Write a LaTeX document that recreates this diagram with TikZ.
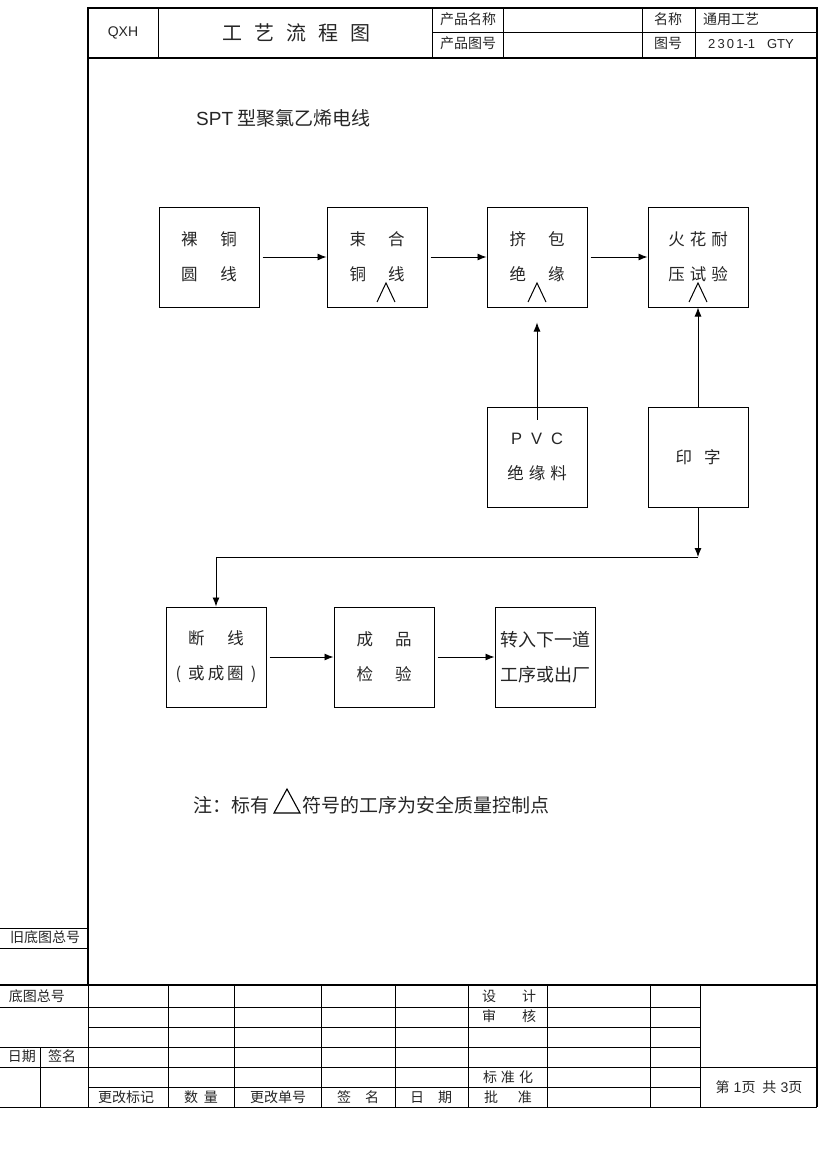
\documentclass[tikz,border=0pt]{standalone}
\usepackage{fontspec}
\setmainfont{Noto Sans CJK SC}
\newfontfamily\lat{Liberation Sans}
\usetikzlibrary{arrows.meta}
\begin{document}
\begin{tikzpicture}[x=1pt,y=-1pt,
  thinln/.style={line width=0.8pt},
  thickln/.style={line width=1.8pt},
  box/.style={draw,line width=1pt,minimum width=100pt,minimum height=100pt,inner sep=0pt,align=center,font=\fontsize{16.5}{35}\selectfont,text=black!85},
  arr/.style={line width=0.9pt,-{Latex[length=9pt,width=7pt]}},
  txt/.style={inner sep=0pt,font=\fontsize{14}{14}\selectfont,text=black!85},
  chev/.style={line width=1pt}]
\useasboundingbox (0,0) rectangle (826,1169);
\fill[white] (0,0) rectangle (826,1169);

% ---------- frame ----------
\draw[thickln] (88,985) -- (88,8) -- (817,8) -- (817,1107);
\draw[thickln] (88,58) -- (817,58);
\draw[thickln] (0,985) -- (817,985);
\draw[thinln] (88,985) -- (88,1107);
% header
\draw[thinln] (158,8) -- (158,58);
\draw[thinln] (432,8) -- (432,58);
\draw[thinln] (503,8) -- (503,58);
\draw[thinln] (642,8) -- (642,58);
\draw[thinln] (695,8) -- (695,58);
\draw[thinln] (432,32) -- (817,32);
\node[txt,font=\lat\fontsize{14}{14}\selectfont] (hq) at (123,33) {QXH};
\node[txt,font=\fontsize{20}{20}\selectfont] (ht) at (296,33) {工\hspace{12pt}艺\hspace{12pt}流\hspace{12pt}程\hspace{12pt}图};
\node[txt] (hn1) at (468,19) {产品名称};
\node[txt] (hn2) at (468,43) {产品图号};
\node[txt] (hn3) at (668,19) {名称};
\node[txt] (hn4) at (731,19) {通用工艺};
\node[txt] (hn5) at (668,43) {图号};
\node[txt,font=\lat\fontsize{13}{13}\selectfont] (hn6) at (751,44) {2\,3\,0\,1-1\hspace{12pt}GTY};

% ---------- left column ----------
\draw[thinln] (0,928) -- (88,928);
\draw[thinln] (0,948) -- (88,948);
\draw[thinln] (0,1007) -- (88,1007);
\draw[thinln] (0,1047) -- (88,1047);
\draw[thinln] (0,1067) -- (88,1067);
\draw[thinln] (40,1047) -- (40,1107);
\node[txt] (l1) at (45,937) {旧底图总号};
\node[txt] (l2) at (37,996) {底图总号};
\node[txt] (l3) at (22,1056) {日期};
\node[txt] (l4) at (62,1056) {签名};

% ---------- bottom table ----------
\foreach \yy in {1007,1027,1047,1087} \draw[thinln] (88,\yy) -- (700,\yy);
\draw[thinln] (88,1067) -- (817,1067);
\draw[thinln] (0,1107) -- (817,1107);
\foreach \xx in {168,234,321,395,468,547,650,700} \draw[thinln] (\xx,985) -- (\xx,1107);
\node[txt] (t1) at (126,1097) {更改标记};
\node[txt] (t2) at (201,1097) {数\hspace{6pt}量};
\node[txt] (t3) at (278,1097) {更改单号};
\node[txt] (t4) at (358,1097) {签\hspace{14pt}名};
\node[txt] (t5) at (431,1097) {日\hspace{14pt}期};
\node[txt] (t6) at (508,1097) {批\hspace{20pt}准};
\node[txt] (t7) at (509,996) {设\hspace{26pt}计};
\node[txt] (t8) at (509,1016) {审\hspace{26pt}核};
\node[txt] (t9) at (508,1077) {标\hspace{4pt}准\hspace{4pt}化};
\node[txt] (t10) at (759,1087) {第\hspace{4pt}{\lat 1}页\hspace{7pt}共\hspace{4pt}{\lat 3}页};

% ---------- title ----------
\node[txt,anchor=west,font=\fontsize{19}{19}\selectfont] (title) at (196,118) {{\lat SPT} 型聚氯乙烯电线};

% ---------- flow boxes ----------
\node[box] (b1) at (209,257) {裸\hspace{23pt}铜\\圆\hspace{23pt}线};
\node[box] (b2) at (377,257) {束\hspace{22pt}合\\铜\hspace{22pt}线};
\node[box] (b3) at (537,257) {挤\hspace{22pt}包\\绝\hspace{22pt}缘};
\node[box] (b4) at (698,257) {火\hspace{5pt}花\hspace{5pt}耐\\压\hspace{5pt}试\hspace{5pt}验};
\node[box] (b5) at (537,457) {{\lat P\hspace{9pt}V\hspace{9pt}C}\\绝\hspace{5pt}缘\hspace{5pt}料};
\node[box] (b6) at (698,457) {印\hspace{12pt}字};
\node[box] (b7) at (216,657) {断\hspace{23pt}线\\(\hspace{7pt}或\hspace{3pt}成\hspace{3pt}圈\hspace{7pt})};
\node[box] (b8) at (384,657) {成\hspace{22pt}品\\检\hspace{22pt}验};
\node[box,font=\fontsize{18}{35}\selectfont] (b9) at (545,657) {转入下一道\\工序或出厂};
% chevrons (quality control marks)
\draw[chev] (377,302) -- (386,283) -- (395,302);
\draw[chev] (528,302) -- (537,283) -- (546,302);
\draw[chev] (689,302) -- (698,283) -- (707,302);

% ---------- connectors ----------
\draw[arr] ([xshift=3pt]b1.east) -- (b2.west);
\draw[arr] ([xshift=3pt]b2.east) -- (b3.west);
\draw[arr] ([xshift=3pt]b3.east) -- (b4.west);
\draw[arr] ([yshift=-13pt]b5.north) -- ([yshift=-15pt]b3.south);
\draw[arr] (b6.north) -- (b4.south);
\coordinate (j) at (b6.south |- 0,557);
\draw[arr] (b6.south) -- (j);
\draw[arr] (j) -| (b7.north);
\draw[arr] ([xshift=3pt]b7.east) -- (b8.west);
\draw[arr] ([xshift=3pt]b8.east) -- (b9.west);

% ---------- note ----------
\node[txt,anchor=west,font=\fontsize{19}{19}\selectfont] (n1) at (193,805) {注：标有};
\draw[line width=1.1pt] (274,813) -- (287,789) -- (300,813) -- cycle;
\node[txt,anchor=west,font=\fontsize{19}{19}\selectfont] (n2) at (302,805) {符号的工序为安全质量控制点};
\end{tikzpicture}
\end{document}
